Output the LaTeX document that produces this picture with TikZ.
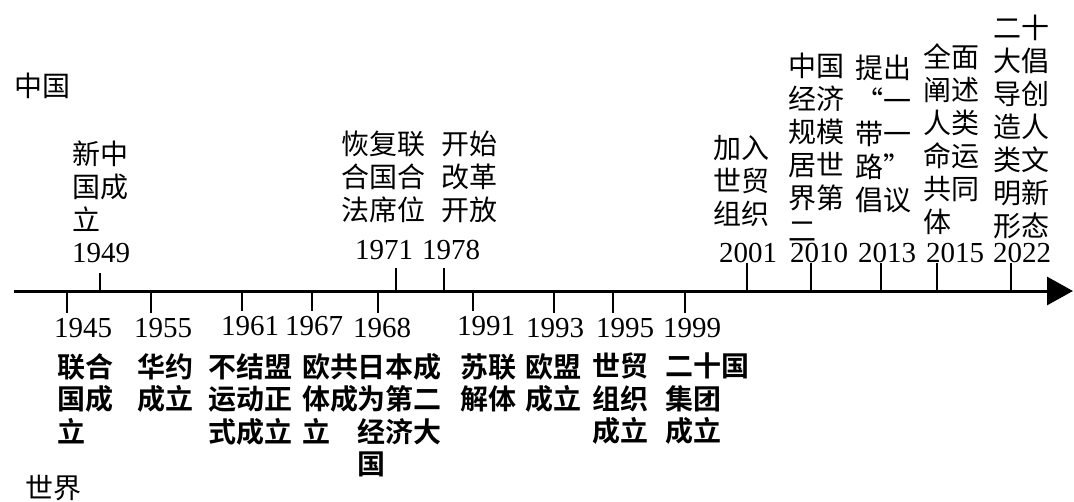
\documentclass[tikz,border=0pt]{standalone}
\usepackage{fontspec}
\newfontfamily\cjk[BoldFont={Noto Sans CJK SC Bold}]{Noto Sans CJK SC}
\newfontfamily\yearfont{Liberation Serif}
\usetikzlibrary{arrows.meta}

\begin{document}
\begin{tikzpicture}[x=1pt,y=-1pt,
    year label/.style={inner sep=0pt,font=\yearfont\fontsize{29}{33}\selectfont},
    cn event/.style={inner sep=0pt,anchor=north west,align=left,font=\cjk\fontsize{28}{33}\selectfont},
    world event/.style={cn event,font=\cjk\bfseries\fontsize{28}{32.5}\selectfont},
    tick line/.style={line width=1.5pt},
    axis line/.style={line width=3pt,-{Triangle[length=26pt,width=28pt]}}]

            \useasboundingbox (0,0) rectangle (1074,501);

            % time axis
            \coordinate (start) at (14,291);
            \coordinate (end) at (1073,291);
            \draw[axis line] (start) to (end);

            \node[cn event, anchor=west] (china) at (14,86) {中国};
            \node[cn event, anchor=west] (world) at (25,488) {世界};

            % China, above the axis
            \node[year label] (y1949) at (101,253) {1949};
            \node[year label] (y1971) at (384,250) {1971};
            \node[year label] (y1978) at (451,250) {1978};
            \node[year label] (y2001) at (748,253) {2001};
            \node[year label] (y2010) at (819,253) {2010};
            \node[year label] (y2013) at (887,253) {2013};
            \node[year label] (y2015) at (955,253) {2015};
            \node[year label] (y2022) at (1022,253) {2022};

            \node[cn event] (e1949) at (72,141) {新中\\国成\\立};
            \node[cn event] (e1971) at (341,131) {恢复联\\合国合\\法席位};
            \node[cn event] (e1978) at (441,131) {开始\\改革\\开放};
            \node[cn event] (e2001) at (713,135) {加入\\世贸\\组织};
            \node[cn event] (e2010) at (788,53) {中国\\经济\\规模\\居世\\界第\\二};
            \node[cn event] (e2013) at (855,55) {提出\\\makebox[28pt][r]{“}一\\带一\\路\makebox[28pt][l]{”}\\倡议};
            \node[cn event] (e2015) at (923,43) {全面\\阐述\\人类\\命运\\共同\\体};
            \node[cn event] (e2022) at (993,15) {二十\\大倡\\导创\\造人\\类文\\明新\\形态};

            \coordinate (a1949) at (100,291);
            \coordinate (a1971) at (396,291);
            \coordinate (a1978) at (444,291);
            \coordinate (a2001) at (747,291);
            \coordinate (a2010) at (811,291);
            \coordinate (a2013) at (881,291);
            \coordinate (a2015) at (937,291);
            \coordinate (a2022) at (1011,291);

            \draw[tick line, shorten >=10pt] (a1949) to (a1949 |- y1949.south);
            \draw[tick line, shorten >=8pt] (a1971) to (a1971 |- y1971.south);
            \draw[tick line, shorten >=8pt] (a1978) to (a1978 |- y1978.south);
            \draw[tick line] (a2001) to (a2001 |- y2001.south);
            \draw[tick line] (a2010) to (a2010 |- y2010.south);
            \draw[tick line] (a2013) to (a2013 |- y2013.south);
            \draw[tick line] (a2015) to (a2015 |- y2015.south);
            \draw[tick line] (a2022) to (a2022 |- y2022.south);

            % world, below the axis
            \node[year label] (y1945) at (83,328) {1945};
            \node[year label] (y1955) at (163,328) {1955};
            \node[year label] (y1961) at (250,326) {1961};
            \node[year label] (y1967) at (314,326) {1967};
            \node[year label] (y1968) at (382,328) {1968};
            \node[year label] (y1991) at (486,326) {1991};
            \node[year label] (y1993) at (555,328) {1993};
            \node[year label] (y1995) at (625,328) {1995};
            \node[year label] (y1999) at (692,328) {1999};

            \node[world event] (e1945) at (57,353) {联合\\国成\\立};
            \node[world event] (e1955) at (137,353) {华约\\成立};
            \node[world event] (e1961) at (208,353) {不结盟\\运动正\\式成立};
            \node[world event] (e1967) at (302,353) {欧共\\体成\\立};
            \node[world event] (e1968) at (357,353) {日本成\\为第二\\经济大\\国};
            \node[world event] (e1991) at (460,353) {苏联\\解体};
            \node[world event] (e1993) at (525,353) {欧盟\\成立};
            \node[world event] (e1995) at (592,353) {世贸\\组织\\成立};
            \node[world event] (e1999) at (665,353) {二十国\\集团\\成立};

            \coordinate (a1945) at (67,291);
            \coordinate (a1955) at (151,291);
            \coordinate (a1961) at (242,291);
            \coordinate (a1967) at (312,291);
            \coordinate (a1968) at (378,291);
            \coordinate (a1991) at (473,291);
            \coordinate (a1993) at (554,291);
            \coordinate (a1995) at (613,291);
            \coordinate (a1999) at (685,291);

            \draw[tick line, shorten >=5pt] (a1945) to (a1945 |- y1945.north);
            \draw[tick line, shorten >=5pt] (a1955) to (a1955 |- y1955.north);
            \draw[tick line, shorten >=5pt] (a1961) to (a1961 |- y1961.north);
            \draw[tick line, shorten >=5pt] (a1967) to (a1967 |- y1967.north);
            \draw[tick line, shorten >=5pt] (a1968) to (a1968 |- y1968.north);
            \draw[tick line, shorten >=5pt] (a1991) to (a1991 |- y1991.north);
            \draw[tick line, shorten >=5pt] (a1993) to (a1993 |- y1993.north);
            \draw[tick line, shorten >=5pt] (a1995) to (a1995 |- y1995.north);
            \draw[tick line, shorten >=5pt] (a1999) to (a1999 |- y1999.north);

        \end{tikzpicture}
\end{document}
